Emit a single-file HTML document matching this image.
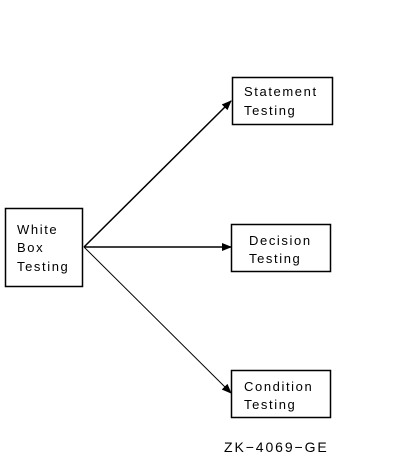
<!DOCTYPE html>
<html><head><style>
body{margin:0;background:#fff;}
text{font-family:"Liberation Sans",sans-serif;font-size:13px;fill:#000;letter-spacing:1.6px;}
</style></head><body>
<svg width="401" height="461" viewBox="0 0 401 461" xmlns="http://www.w3.org/2000/svg">
<defs><marker id="a" markerWidth="10" markerHeight="8" refX="9" refY="4" orient="auto" markerUnits="userSpaceOnUse"><path d="M0,0 L10,4 L0,8 z" fill="#000"/></marker></defs>
<g fill="none" stroke="#000" stroke-width="1.5">
<rect x="5.5" y="208.5" width="77" height="78"/>
<rect x="232.5" y="77.5" width="100" height="47"/>
<rect x="231.5" y="224.5" width="99" height="47"/>
<rect x="231.5" y="370.5" width="99" height="47"/>
<line x1="84" y1="247" x2="231" y2="101" marker-end="url(#a)"/>
<line x1="84" y1="247" x2="231" y2="247" marker-end="url(#a)"/>
<line x1="84" y1="247" x2="231" y2="393" stroke-width="1" marker-end="url(#a)"/>
</g>
<text x="17" y="234">White</text>
<text x="17" y="252">Box</text>
<text x="17" y="271">Testing</text>
<text x="244" y="96">Statement</text>
<text x="244" y="115">Testing</text>
<text x="249" y="245">Decision</text>
<text x="249" y="263">Testing</text>
<text x="244" y="391">Condition</text>
<text x="244" y="409">Testing</text>
<text x="224" y="452" style="font-size:14px;letter-spacing:1.9px">ZK−4069−GE</text>
</svg>
</body></html>
